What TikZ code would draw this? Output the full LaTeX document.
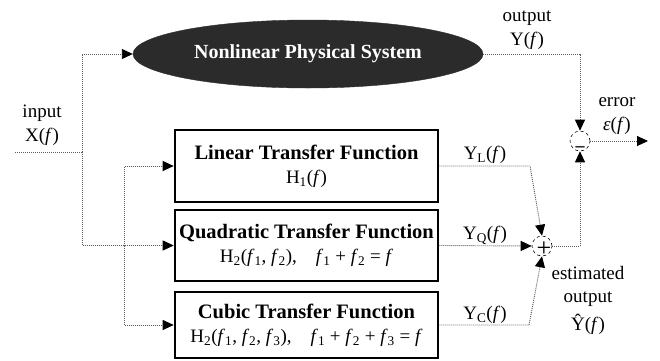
\documentclass[tikz,border=0pt]{standalone}
\usepackage{fontspec}
\setmainfont{Liberation Serif}
\usetikzlibrary{arrows.meta,positioning,shapes.geometric,calc}
\definecolor{plantfill}{HTML}{2B2B2B}
\definecolor{wiregray}{HTML}{5A5A5A}
\newcommand{\fq}{\textit{f}}
\tikzset{
  block/.style={draw,line width=2.6pt,minimum width=263pt,inner sep=0pt,align=center,
    font=\fontsize{19}{24}\selectfont},
  plant/.style={ellipse,fill=plantfill,draw=plantfill,minimum width=350pt,minimum height=68pt,inner sep=0pt,
    text=white,font=\fontsize{20}{24}\selectfont\bfseries},
  junction/.style={circle,draw,dashed,line width=0.6pt,minimum size=20pt,inner sep=0pt},
  wire/.style={wiregray,line width=0.9pt,dash pattern=on 1pt off 1pt},
  signal/.style={wire,-{Triangle[length=11pt,width=10pt,color=black]}},
  tag/.style={align=center,font=\fontsize{19}{24}\selectfont}
}
\begin{document}
\begin{tikzpicture}[x=1pt,y=-1pt]
  \useasboundingbox (0,0) rectangle (660,360);
  % system and model branches
  \node[plant] (sys) at (308,54) {Nonlinear Physical System};
  \node[block,minimum height=72pt] (lin) at (306.5,166)
    {{\fontsize{20.5}{24}\selectfont\bfseries Linear Transfer Function}\\H\textsubscript{1}(\fq)};
  \node[block,minimum height=71pt] (quad) at (306.5,245.5)
    {{\fontsize{20.5}{24}\selectfont\bfseries Quadratic Transfer Function}\\
     H\textsubscript{2}(\fq\textsubscript{1}, \fq\textsubscript{2}),\quad \fq\textsubscript{1} + \fq\textsubscript{2} = \fq};
  \node[block,minimum height=66pt] (cub) at (306.5,325)
    {{\fontsize{20.5}{24}\selectfont\bfseries Cubic Transfer Function}\\
     H\textsubscript{2}(\fq\textsubscript{1}, \fq\textsubscript{2}, \fq\textsubscript{3}),\quad \fq\textsubscript{1} + \fq\textsubscript{2} + \fq\textsubscript{3} = \fq};
  \node[junction] (err) at (580,141) {};
  \node[junction] (sum) at (542,246) {};
  \node[font=\fontsize{18}{18}\selectfont\bfseries] at ($(err)+(0,8)$) {–};
  \node[font=\fontsize{26}{26}\selectfont] at ($(sum)+(2,3)$) {+};
  % free ends and bends
  \coordinate (in) at (15,152);
  \coordinate (split) at (82,152);
  \coordinate (branch) at (124,245.5);
  \coordinate (bendL) at (530,166);
  \coordinate (bendC) at (529,325);
  \coordinate (out) at (648,141);
  % connectors
  \draw[wire] (in) -- (split);
  \draw[signal] (split) |- (sys.west);
  \draw[signal] (split) |- (quad.west);
  \draw[signal] (branch) |- (lin.west);
  \draw[signal] (branch) |- (cub.west);
  \draw[signal] (sys.east) -| (err.north);
  \draw[signal] (sum.east) -| (err.south);
  \draw[signal] (err.east) -- (out);
  \draw[signal] (lin.east) -- (bendL) -- (sum.north);
  \draw[signal] (quad.east) -- (sum.west);
  \draw[signal] (cub.east) -- (bendC) -- (sum.south);
  % labels
  \node[tag] at (42,125) {input\\X(\fq)};
  \node[tag] at (527,30) {output\\Y(\fq)};
  \node[tag] at (617,116) {error\\\textit{ε}(\fq)};
  \node[tag] at (485,155) {Y\textsubscript{L}(\fq)};
  \node[tag] at (485,235) {Y\textsubscript{Q}(\fq)};
  \node[tag] at (485,315) {Y\textsubscript{C}(\fq)};
  \node[tag,font=\fontsize{19}{23}\selectfont] at (588,300) {estimated\\output\\[5pt]Ŷ(\fq)};
\end{tikzpicture}
\end{document}
